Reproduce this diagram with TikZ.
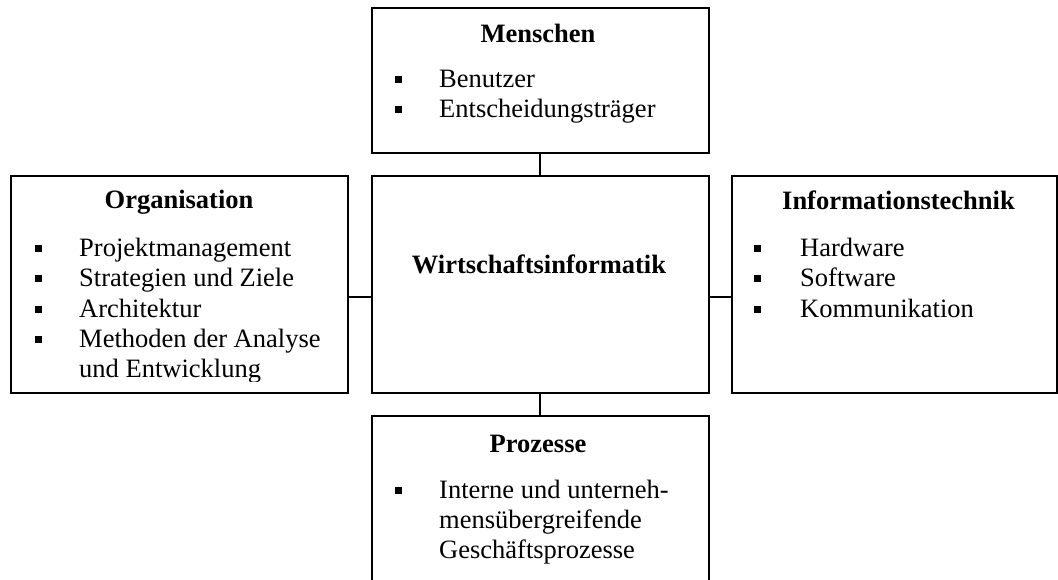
\documentclass[tikz,border=0pt]{standalone}
\usepackage{fontspec}
\setmainfont{Liberation Serif}
\newcommand{\bodysize}{\fontsize{26.5}{30}\selectfont}
\begin{document}
\begin{tikzpicture}[x=1pt,y=-1pt,
  box/.style={draw, line width=2.2pt, inner sep=0pt, anchor=north west},
  head/.style={font=\bodysize\bfseries, anchor=base, inner sep=0pt},
  itemtext/.style={font=\bodysize, anchor=base west, inner sep=0pt},
  link/.style={line width=2.2pt}]
\useasboundingbox (0,0) rectangle (1058,580);
\clip (0,0) rectangle (1058,580);
\fill[white] (0,0) rectangle (1058,580);

% bullet square, centred 8pt above the given baseline
\newcommand{\sqbullet}[2]{\fill (#1-3.5,#2-11.5) rectangle (#1+3.5,#2-4.5);}

% frames
\node[box, minimum width=337pt, minimum height=145pt] (men)  at (370.5,7)   {};
\node[box, minimum width=337pt, minimum height=217pt] (org)  at (10,175)  {};
\node[box, minimum width=337pt, minimum height=217pt] (wi)   at (370.5,175) {};
\node[box, minimum width=325pt, minimum height=217pt] (it)   at (731,175) {};
\node[box, minimum width=337pt, minimum height=205pt] (proz) at (370.5,415) {};

% links to the centre
\draw[link] (men.south) -- (wi.north);
\draw[link] (wi.south) -- (proz.north);
\draw[link] ([yshift=-12.5pt]org.east) -- ([yshift=-12.5pt]wi.west);
\draw[link] ([yshift=-12.5pt]wi.east) -- ([yshift=-12.5pt]it.west);

% centre
\node[head] (wititle) at (539,273) {Wirtschaftsinformatik};

% Menschen
\node[head] (mentitle) at (538,43) {Menschen};
\sqbullet{398}{88}  \node[itemtext] (men1) at (439,88)  {Benutzer};
\sqbullet{398}{118} \node[itemtext] (men2) at (439,118) {Entscheidungsträger};

% Organisation (last line cut off by the text frame)
\node[head] (orgtitle) at (179,209) {Organisation};
\begin{scope}
\clip (10,175) rectangle (347,381);
\sqbullet{38}{257} \node[itemtext] (org1) at (79,257) {Projektmanagement};
\sqbullet{38}{287} \node[itemtext] (org2) at (79,287) {Strategien und Ziele};
\sqbullet{38}{317} \node[itemtext] (org3) at (79,317) {Architektur};
\sqbullet{38}{347} \node[itemtext] (org4) at (79,347) {Methoden der Analyse};
\node[itemtext] (org5) at (79,377) {und Entwicklung};
\end{scope}

% Informationstechnik
\node[head] (ittitle) at (898.5,210) {Informationstechnik};
\sqbullet{757}{257} \node[itemtext] (it1) at (800,257) {Hardware};
\sqbullet{757}{287} \node[itemtext] (it2) at (800,287) {Software};
\sqbullet{757}{317} \node[itemtext] (it3) at (800,317) {Kommunikation};

% Prozesse
\node[head] (proztitle) at (538,452) {Prozesse};
\sqbullet{398}{498} \node[itemtext] (proz1) at (439,498) {Interne und unterneh-};
\node[itemtext] (proz2) at (439,528) {mensübergreifende};
\node[itemtext] (proz3) at (439,558) {Geschäftsprozesse};
\end{tikzpicture}
\end{document}
